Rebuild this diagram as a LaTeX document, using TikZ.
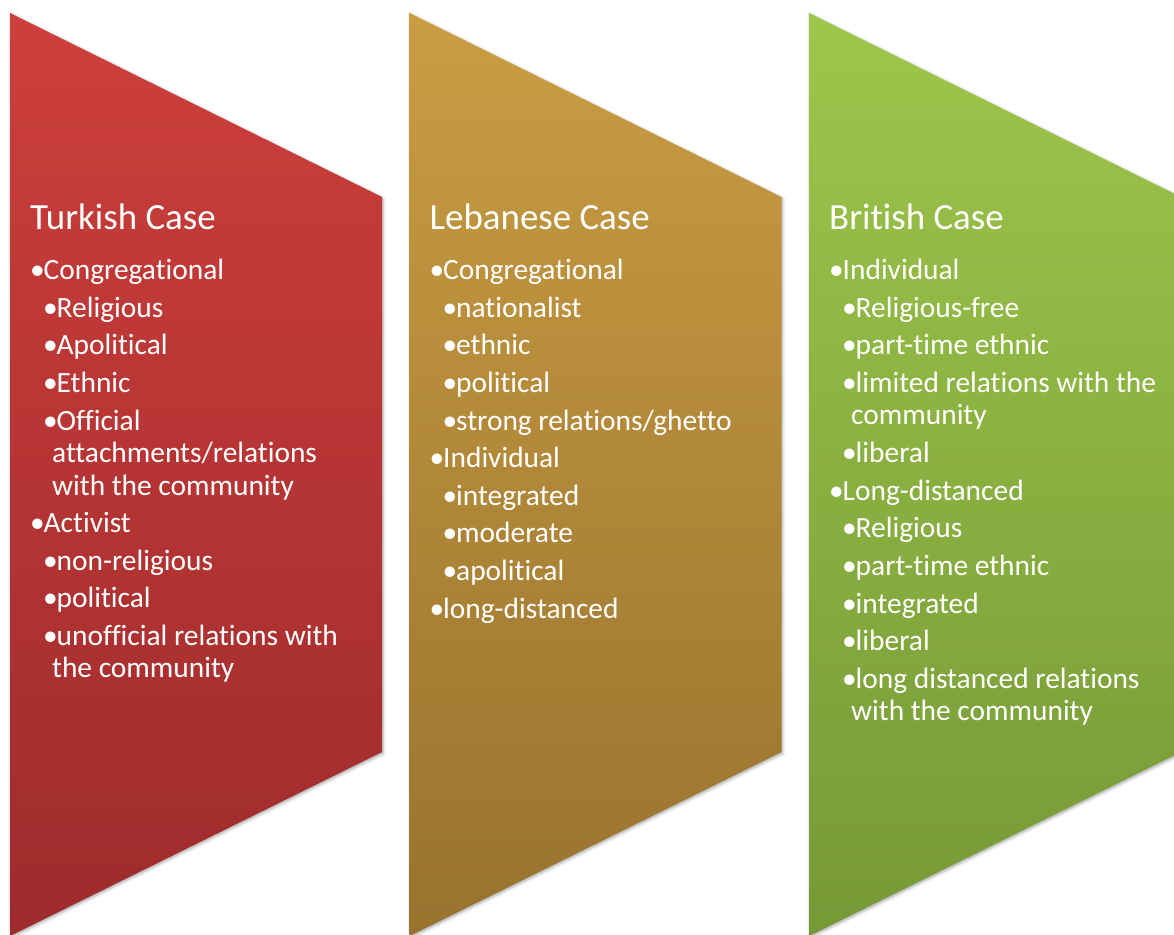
\documentclass[tikz,border=0pt]{standalone}
\usepackage{fontspec}
\setmainfont{Carlito}[Ligatures={NoCommon,NoContextual}]
\usetikzlibrary{shadows.blur}
\definecolor{redtop}{HTML}{CD3F3C}
\definecolor{redbot}{HTML}{9E2B2C}
\definecolor{goldtop}{HTML}{CA9D43}
\definecolor{goldbot}{HTML}{98732F}
\definecolor{greentop}{HTML}{9EC64B}
\definecolor{greenbot}{HTML}{769937}
\newcommand\bul{\makebox[13.5pt][l]{•}}
\begin{document}
\begin{tikzpicture}[x=1pt,y=-1pt,
  panel/.style={blur shadow={shadow xshift=1pt,shadow yshift=-1.5pt,shadow blur radius=3pt,shadow opacity=35}},
  ttl/.style={anchor=base west,inner sep=0pt,text=white,font=\fontsize{36.9}{40}\selectfont},
  txt/.style={anchor=base west,inner sep=0pt,text=white,font=\fontsize{29.4}{33}\selectfont},
]
\useasboundingbox (0,0) rectangle (1174,934);
\clip (0,0) rectangle (1174,934);

% three chevron-like panels
\shade[panel,top color=redtop,bottom color=redbot]
  (10,13) -- (382,197) -- (382,752) -- (10,936) -- cycle;
\shade[panel,top color=goldtop,bottom color=goldbot]
  (409.5,13) -- (781.5,197) -- (781.5,752) -- (409.5,936) -- cycle;
\shade[panel,top color=greentop,bottom color=greenbot]
  (809,13) -- (1181,197) -- (1181,752) -- (809,936) -- cycle;

% Turkish case
\node[ttl] (tT) at (30,229) {Turkish Case};
\node[txt] (t1)  at (30,279)   {\bul Congregational};
\node[txt] (t2)  at (43,317)   {\bul Religious};
\node[txt] (t3)  at (43,354.5) {\bul Apolitical};
\node[txt] (t4)  at (43,392)   {\bul Ethnic};
\node[txt] (t5)  at (43,430)   {\bul Official};
\node[txt] (t5b) at (52,462.5) {attachments/relations};
\node[txt] (t5c) at (52,495)   {with the community};
\node[txt] (t6)  at (30,532.5) {\bul Activist};
\node[txt] (t7)  at (43,570)   {\bul non-religious};
\node[txt] (t8)  at (43,607.5) {\bul political};
\node[txt] (t9)  at (43,645)   {\bul unofficial relations with};
\node[txt] (t9b) at (52,677.5) {the community};

% Lebanese case
\node[ttl] (lT) at (429.5,229) {Lebanese Case};
\node[txt] (l1)  at (429.5,279)   {\bul Congregational};
\node[txt] (l2)  at (442.5,317)   {\bul nationalist};
\node[txt] (l3)  at (442.5,354.5) {\bul ethnic};
\node[txt] (l4)  at (442.5,392)   {\bul political};
\node[txt] (l5)  at (442.5,430)   {\bul strong relations/ghetto};
\node[txt] (l6)  at (429.5,467.5) {\bul Individual};
\node[txt] (l7)  at (442.5,505)   {\bul integrated};
\node[txt] (l8)  at (442.5,542.5) {\bul moderate};
\node[txt] (l9)  at (442.5,580)   {\bul apolitical};
\node[txt] (l10) at (429.5,618)   {\bul long-distanced};

% British case
\node[ttl] (bT) at (829,229) {British Case};
\node[txt] (b1)  at (829,279)   {\bul Individual};
\node[txt] (b2)  at (842,317)   {\bul Religious-free};
\node[txt] (b3)  at (842,354.5) {\bul part-time ethnic};
\node[txt] (b4)  at (842,392)   {\bul limited relations with the};
\node[txt] (b4b) at (851,424.5) {community};
\node[txt] (b5)  at (842,462)   {\bul liberal};
\node[txt] (b6)  at (829,500)   {\bul Long-distanced};
\node[txt] (b7)  at (842,537.5) {\bul Religious};
\node[txt] (b8)  at (842,575)   {\bul part-time ethnic};
\node[txt] (b9)  at (842,613)   {\bul integrated};
\node[txt] (b10) at (842,650.5) {\bul liberal};
\node[txt] (b11) at (842,688)   {\bul long distanced relations};
\node[txt] (b11b) at (851,720.5) {with the community};
\end{tikzpicture}
\end{document}
